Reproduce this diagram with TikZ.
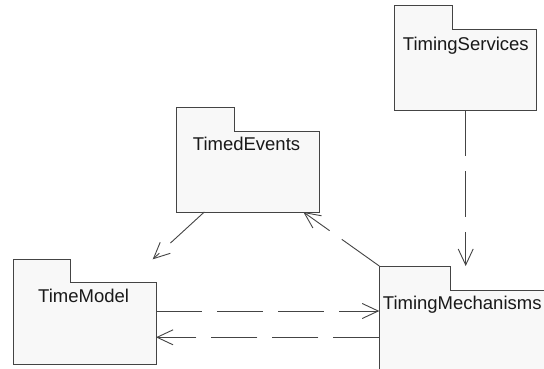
\documentclass[tikz,border=0pt]{standalone}
\usepackage{fontspec}
\setmainfont{Liberation Sans}
\usetikzlibrary{arrows.meta,calc}
\definecolor{linec}{HTML}{444444}
\definecolor{pkgfill}{HTML}{F8F8F8}
\tikzset{
  pkgbody/.style={draw=linec, fill=pkgfill, line width=1pt, inner sep=0pt, outer sep=0pt, anchor=north west},
  pkgtab/.style={fill=pkgfill, draw=none, inner sep=0pt, outer sep=0pt, anchor=north west},
  taboutline/.style={draw=linec, line width=1pt},
  lbl/.style={anchor=base west, inner sep=0pt, font=\fontsize{18.5}{20}\selectfont, text=black!90},
  dep/.style={draw=linec, line width=0.9pt, dash pattern=on 46pt off 15pt,
    -{Straight Barb[length=16pt,width=15pt,line width=0.9pt]}}
}
\begin{document}
\begin{tikzpicture}[x=1pt,y=-1pt]
\useasboundingbox (0,0) rectangle (544,368);
\clip (0,0) rectangle (544,368);
\fill[white] (0,0) rectangle (544,368);

% TimingServices
\node[pkgbody, minimum width=142pt, minimum height=80.7pt] (tsb) at (394.7,29.3) {};
\node[pkgtab, minimum width=58pt, minimum height=24.8pt] (tst) at (394.7,5) {};
\draw[taboutline] (tst.south west) |- (tst.north east) -- (tst.south east);
\node[lbl] (tsl) at (402.7,50) {TimingServices};

% TimedEvents
\node[pkgbody, minimum width=143.3pt, minimum height=80.7pt] (teb) at (176,131.3) {};
\node[pkgtab, minimum width=58.7pt, minimum height=24.5pt] (tet) at (176,107.3) {};
\draw[taboutline] (tet.south west) |- (tet.north east) -- (tet.south east);
\node[lbl] (tel) at (192.7,150.7) {TimedEvents};

% TimeModel
\node[pkgbody, minimum width=142.7pt, minimum height=81.3pt] (tmb) at (13.3,282.7) {};
\node[pkgtab, minimum width=56.7pt, minimum height=23.9pt] (tmt) at (13.3,259.3) {};
\draw[taboutline] (tmt.south west) |- (tmt.north east) -- (tmt.south east);
\node[lbl] (tml) at (38,302.3) {TimeModel};

% TimingMechanisms
\node[pkgbody, minimum width=190pt, minimum height=100pt] (mcb) at (379.3,290) {};
\node[pkgtab, minimum width=70.7pt, minimum height=24.5pt] (mct) at (379.3,266) {};
\draw[taboutline] (mct.south west) |- (mct.north east) -- (mct.south east);
\node[lbl] (mcl) at (382.7,309.3) {TimingMechanisms};

% free ends / helper coordinates
\coordinate (tmend) at (152.7,259.3);
\coordinate (yup) at (0,311);
\coordinate (ydown) at (0,337.3);

% connectors
\draw[dep] (tsb.south) -- (tsb.south |- mct.north);
\draw[dep] ($(teb.south west)!0.1975!(teb.south east)$) -- (tmend);
\draw[dep] (mct.north west) -- ($(teb.south west)!0.8886!(teb.south east)$);
\draw[dep] (tmb.east |- yup) -- (mcb.west |- yup);
\draw[dep] (mcb.west |- ydown) -- (tmb.east |- ydown);
\end{tikzpicture}
\end{document}
